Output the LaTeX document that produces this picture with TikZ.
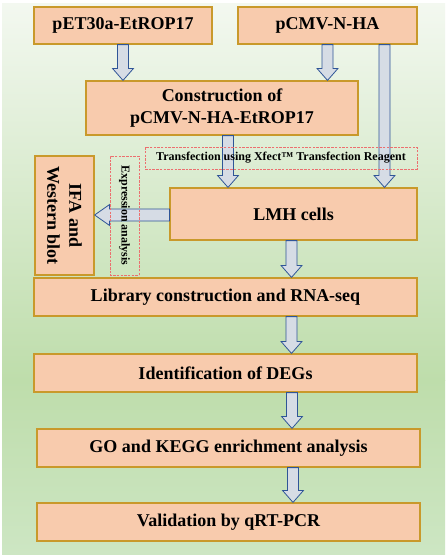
\documentclass[tikz,border=0pt]{standalone}
\usepackage{fontspec}
\setmainfont{Liberation Serif}
\usetikzlibrary{calc}
\definecolor{boxfill}{HTML}{F8CBAD}
\definecolor{boxline}{HTML}{C9992B}
\definecolor{arrfill}{HTML}{D6DCE5}
\definecolor{arrline}{HTML}{2F5597}
\definecolor{dashred}{HTML}{EC6F6F}
\definecolor{bgtop}{HTML}{F3F8F0}
\definecolor{bgmid}{HTML}{BEDDAB}
\definecolor{bgbot}{HTML}{CDE6C3}
\tikzset{
  box/.style={draw=boxline, fill=boxfill, line width=1.2pt, inner sep=0pt, align=center,
    font=\bfseries\fontsize{18}{22}\selectfont},
  dbox/.style={draw=dashred, dash pattern=on 2.5pt off 1.2pt, line width=0.7pt, inner sep=0pt,
    font=\bfseries\fontsize{12}{14}\selectfont},
  barrow/.style={draw=arrline, fill=arrfill, line width=0.8pt, line join=miter},
}
\newcommand\bdown[3]{\draw[barrow] let \p1=(#2), \p2=(#3) in
  (#1pt-5.5pt,\y1) -- (#1pt-5.5pt,\y2+12pt) -- (#1pt-10.5pt,\y2+12pt) -- (#1pt,\y2)
  -- (#1pt+10.5pt,\y2+12pt) -- (#1pt+5.5pt,\y2+12pt) -- (#1pt+5.5pt,\y1) -- cycle;}
\begin{document}
\begin{tikzpicture}[x=1pt,y=1pt]
\useasboundingbox (0,0) rectangle (447,-557);
\fill[white] (0,0) rectangle (447,-557);
\shade[top color=bgtop, bottom color=bgmid] (2,-3) rectangle (445,-380);
\shade[top color=bgmid, bottom color=bgbot] (2,-380) rectangle (445,-554);

\node[box, minimum width=178pt, minimum height=37pt] (p1) at (123,-25.5) {pET30a-EtROP17};
\node[box, minimum width=179pt, minimum height=37pt] (p2) at (327.5,-25.5) {pCMV-N-HA};
\node[box, minimum width=272pt, minimum height=54pt] (cons) at (222,-108) {Construction of\\pCMV-N-HA-EtROP17};
\node[box, rotate=-90, minimum width=119pt, minimum height=59pt] (ifa) at (64.5,-215.5) {IFA and\\Western blot};
\node[box, minimum width=247pt, minimum height=52pt] (lmh) at (293.5,-214) {LMH cells};
\node[box, minimum width=383pt, minimum height=38pt] (lib) at (225.5,-297) {Library construction and RNA-seq};
\node[box, minimum width=383pt, minimum height=38pt] (deg) at (225.5,-373) {Identification of DEGs};
\node[box, minimum width=383pt, minimum height=38pt] (go) at (228.5,-448) {GO and KEGG enrichment analysis};
\node[box, minimum width=383pt, minimum height=38pt] (val) at (228.5,-522) {Validation by qRT-PCR};

\bdown{123}{p1.south}{cons.north}
\bdown{327.5}{p2.south}{cons.north}
\bdown{384.5}{p2.south}{lmh.north}
\bdown{228}{cons.south}{lmh.north}
\bdown{291.5}{lmh.south}{lib.north}
\bdown{291.5}{lib.south}{deg.north}
\bdown{292}{deg.south}{go.north}
\bdown{293}{go.south}{val.north}
\draw[barrow] let \p1=(lmh.west), \p2=(ifa.north) in
  (\x1,-209) -- (\x2+15pt,-209) -- (\x2+15pt,-204.5) -- (\x2,-215)
  -- (\x2+15pt,-225.5) -- (\x2+15pt,-221) -- (\x1,-221) -- cycle;

\node[dbox, minimum width=272pt, minimum height=22pt] (trans) at (281,-158) {Transfection using Xfect™ Transfection Reagent};
\node[dbox, rotate=-90, minimum width=119pt, minimum height=29pt] (expr) at (124.5,-215.5) {Expression analysis};
\end{tikzpicture}
\end{document}
